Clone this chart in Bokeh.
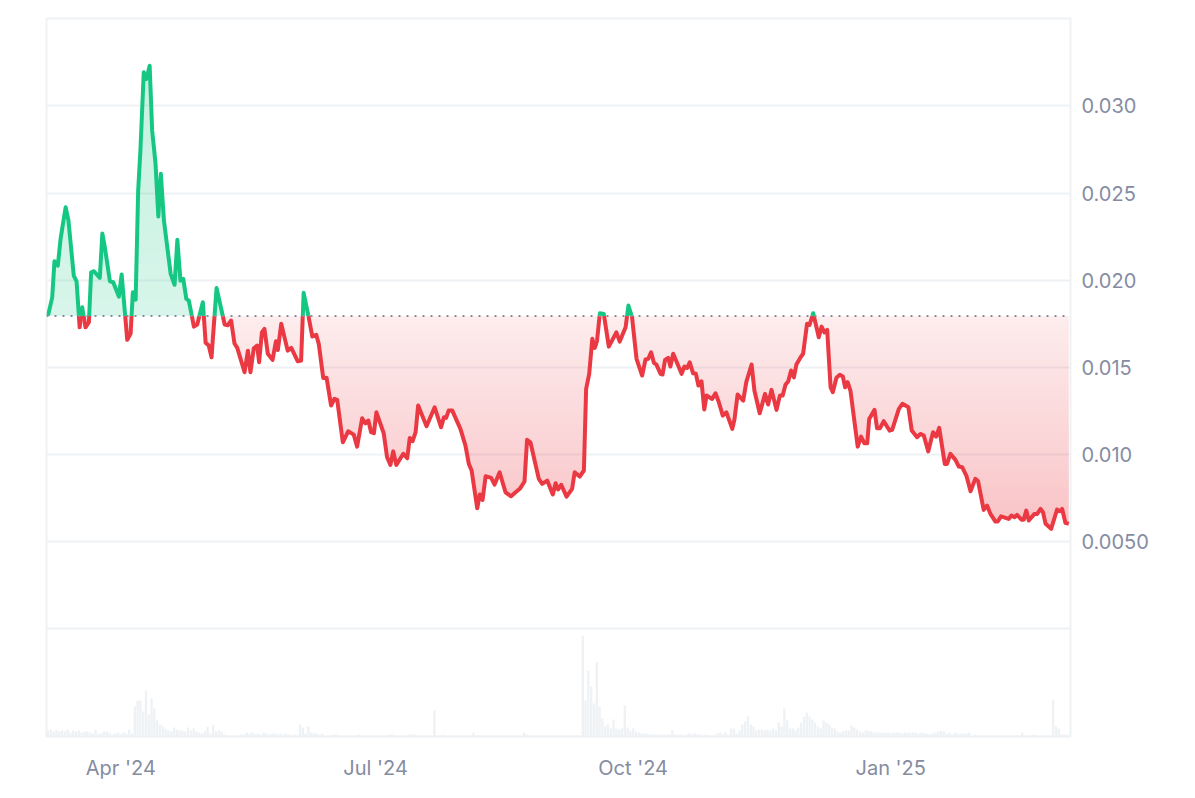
import numpy as np
from bokeh.plotting import figure
from bokeh.models import FixedTicker, Range1d, LinearAxis, Span
from bokeh.embed import file_html
from bokeh.resources import INLINE

# ---------- data ----------
days = [0,1.5,2.3,3.5,4.5,6.3,7.3,9.2,10.2,11.3,12.2,13.4,14.6,15.4,16.4,18.5,19.4,20.3,22.1,23.3,25.3,26.3,28.3,29.5,30.3,31.3,
32.2,33,34.2,35.2,36.3,37.2,38.4,39.4,40.3,41.4,43.8,45.2,46.2,47.3,48.3,49.4,50.3,52.1,53.3,55.3,56.3,57.4,58.4,60.2,63.1,64.2,
65.4,66.6,67.6,70.2,71.4,72.3,73.5,74.7,75.4,76.4,77.3,78.5,80.2,81.4,82.1,83.3,85.6,86.9,89.2,90.4,91.3,93.1,94.4,95.8,96.7,
98.3,99.5,101.1,102.3,103.3,105.3,107.2,109.2,110.4,112.2,113.4,114.4,115.4,116.4,117.3,119.9,121.1,122.3,123.3,124.4,126.9,
128.3,129.2,130.2,131.3,132.2,135.2,138.1,140.4,141.4,142.2,143.1,144.4,147.3,149.1,150.3,151.3,153.3,154.2,155.2,156.3,158.3,
159.5,161.3,163.4,165.4,167,168.5,170.2,171.1,172.3,175.3,176.5,178.3,180.3,181.3,182.2,183.3,185.2,187.2,188.1,189.9,191.4,
192.2,193.3,194.4,195.3,196.1,197.1,198.5,200.3,203,204.2,206.3,207.3,208.6,210.2,212.2,213.4,214.4,215.4,216.4,217.3,218.8,
219.5,220.4,221.5,222.3,223.3,226.3,227.3,228.3,229.2,230.4,231.4,232.3,233.4,234.4,235.2,237.2,238.4,239.6,241,242.3,244.4,
245.2,246.3,248.3,249.4,251.3,252.3,254.2,256.1,257.2,258.4,260.2,261.4,262.4,263.4,264.4,265.4,266.4,267.3,268.8,269.7,271.1,
272,273.3,275.3,276.3,277.3,278.3,279.5,280.3,281.6,282.8,283.9,284.7,285.6,286.6,289.2,290.4,291.6,292.6,293.3,295.2,296.1,
297.1,298.5,300.6,301.5,303.9,305.2,307.3,308.5,310.4,311.6,312.8,314.4,316.1,317.2,318.3,320.3,321.1,322.3,324.1,325.3,326.5,
328,329.5,331.2,332.2,334.2,335.4,336.6,338.4,339.2,340.4,343.1,344.1,345.2,346.1,347.7,348.5,349.4,350.3,352.3,353.3,354.5,
355.4,356.3,358.3,360.4,361.3,362.2,363.4,364.6]

price = [.01802,.01907,.02114,.02089,.02244,.02424,.02348,.02032,.01999,.01735,.0185,.01735,.01764,.02051,.02057,.02019,.02273,
.02194,.01999,.01994,.01911,.02038,.01663,.01699,.01936,.01894,.0252,.0275,.03199,.03161,.03237,.02864,.02675,.02371,.02616,
.02348,.02042,.01979,.02237,.02003,.02013,.01898,.01888,.01739,.01751,.01879,.01646,.0163,.01563,.01961,.01751,.01747,.01774,
.01642,.01617,.01477,.01601,.01477,.01615,.0163,.01534,.01706,.01726,.01583,.01548,.01655,.01605,.01755,.01601,.01617,.0154,
.01544,.01933,.01793,.01682,.01692,.0164,.01444,.01445,.01286,.01324,.01318,.01075,.01138,.01119,.0105,.01213,.01184,.012,
.01133,.01127,.01247,.01127,.00989,.00945,.01023,.00945,.01009,.00983,.011,.01081,.01133,.01286,.01167,.01276,.01161,.01219,
.01215,.01257,.01257,.01152,.01056,.00951,.00913,.00696,.00775,.00744,.0088,.00871,.00832,.00903,.00788,.00765,.00788,.00808,
.0085,.01089,.01075,.00865,.00836,.00855,.00775,.0084,.00804,.00831,.00763,.00808,.00903,.00878,.00913,.01382,.01468,.01669,
.01617,.01659,.01816,.01812,.01624,.01706,.01653,.01735,.0186,.01793,.01554,.01458,.0155,.01554,.01592,.01531,.01521,.01468,
.01464,.01548,.0156,.0151,.01583,.01468,.0151,.01502,.01534,.01471,.01468,.01401,.01425,.01263,.01343,.01324,.01356,.01305,
.01228,.01247,.01152,.01209,.01349,.01314,.0142,.01521,.01372,.01242,.01353,.01292,.01376,.01261,.01343,.01343,.01405,.01425,
.01487,.01448,.01521,.01563,.01583,.01755,.01749,.01816,.01678,.01739,.01706,.0172,.01391,.01362,.01445,.01462,.01452,.01391,
.0142,.01372,.0105,.01108,.01069,.01069,.01209,.01261,.01155,.01155,.01196,.01142,.01146,.01267,.01296,.01276,.01142,.01104,
.01123,.01114,.01023,.01133,.01108,.01158,.00951,.00951,.01009,.00974,.00936,.00932,.00884,.00794,.00865,.00851,.00687,.00712,
.00664,.0062,.0062,.0065,.00635,.00654,.00645,.00658,.00631,.00631,.00683,.00626,.00664,.00664,.00693,.00673,.00607,.00578,
.00689,.00679,.00693,.00612,.00607]

volume = [6,7,5,7,5,6,5,7,4,6,
5,6,4,5,5,4,3,7,3,3,
5,5,4,2,3,4,2,4,3,7,
3,30,36,36,25,46,22,38,28,16,
12,10,8,6,5,9,7,6,6,5,
9,6,8,5,4,3,5,10,3,12,
5,6,5,2,1,1,1,1,1,2,
2,4,3,4,2,3,2,4,3,2,
3,3,2,3,2,3,2,1,2,1,
12,9,3,10,4,3,3,2,3,1,
1,1,2,2,1,1,1,1,1,1,
1,2,1,1,1,1,1,1,1,1,
1,1,2,2,1,1,1,1,1,2,
2,2,1,1,1,1,1,1,26,1,
1,2,1,1,1,1,1,1,1,1,
1,1,4,1,1,1,1,1,1,1,
1,1,1,1,1,1,1,1,1,1,
4,2,1,1,1,1,1,1,1,1,
1,1,1,1,1,1,1,1,1,1,
1,101,36,66,50,33,74,30,18,10,
12,8,17,8,7,8,31,9,6,8,
5,4,3,3,3,2,2,2,2,2,
2,2,2,6,2,2,2,1,2,3,
2,3,2,2,1,2,1,1,1,3,
4,2,4,2,8,8,3,6,12,15,
20,12,10,6,7,7,6,7,6,8,
6,14,10,28,16,8,8,6,9,14,
20,24,20,17,14,10,8,16,14,12,
9,8,5,4,5,6,6,11,9,7,
5,4,6,6,5,4,4,4,4,4,
4,3,4,4,4,3,4,4,4,4,
4,3,4,3,3,2,3,4,5,6,
5,3,4,2,4,3,3,3,3,4,
1,2,1,1,1,1,1,1,1,1,
1,1,1,1,1,1,1,1,4,1,
1,1,2,1,1,1,1,1,1,37,
10,8,2,2,2]

reading_offset = 0.00006   # the series above were read about one pixel too high
baseline_price = 0.018
price_ticks = [0.005, 0.010, 0.015, 0.020, 0.025, 0.030]
price_labels = ["0.0050", "0.010", "0.015", "0.020", "0.025", "0.030"]
month_days = [26, 117, 209, 301]
month_labels = ["Apr '24", "Jul '24", "Oct '24", "Jan '25"]

# ---------- styling ----------
GREEN, RED = "#16c784", "#ea3943"
GRID = "#eff2f5"
TEXT = "#858ca2"
FONT = "Inter"
PX = 1 / 17420  # price per screen pixel

x = np.array(days, float)
y = np.array(price, float) - reading_offset
base = baseline_price - reading_offset


def with_level(xs, ys, level):
    """Add the points where the drawn polyline meets a horizontal level (clipping geometry)."""
    out_x, out_y = [xs[0]], [ys[0]]
    for i in range(1, len(xs)):
        a, b = ys[i - 1], ys[i]
        if (a - level) * (b - level) < 0:
            t = (level - a) / (b - a)
            out_x.append(xs[i - 1] + t * (xs[i] - xs[i - 1]))
            out_y.append(level)
        out_x.append(xs[i])
        out_y.append(b)
    return np.array(out_x), np.array(out_y)


def split_runs(xs, ys, level):
    up, down = ([], []), ([], [])
    start = 0
    for i in range(1, len(xs) + 1):
        if i == len(xs) or (ys[i] == level and i > start):
            end = min(i, len(xs) - 1)
            seg_x, seg_y = xs[start:end + 1], ys[start:end + 1]
            target = up if seg_y.mean() >= level else down
            target[0].append(list(seg_x))
            target[1].append(list(seg_y))
            start = end
    return up, down


p = figure(width=1187, height=790, output_backend="svg", toolbar_location=None,
           x_range=Range1d(-0.54, 365.2), y_range=Range1d(-108 * PX, 610 * PX),
           y_axis_location="right", min_border_left=46, min_border_right=117,
           min_border_top=18, min_border_bottom=54)
p.outline_line_color = GRID
p.outline_line_width = 2
p.background_fill_color = "white"
p.xgrid.visible = False
p.ygrid.ticker = FixedTicker(ticks=[0] + price_ticks)
p.ygrid.grid_line_color = GRID
p.ygrid.grid_line_width = 2
p.ygrid.level = "underlay"

for ax, ticks, labels in ((p.yaxis[0], price_ticks, price_labels), (p.xaxis[0], month_days, month_labels)):
    ax.ticker = FixedTicker(ticks=ticks)
    ax.major_label_overrides = dict(zip(ticks, labels))
    ax.axis_line_color = None
    ax.major_tick_line_color = None
    ax.minor_tick_line_color = None
    ax.major_tick_out = 0
    ax.major_label_text_color = TEXT
    ax.major_label_text_font = FONT
    ax.major_label_text_font_size = "20px"
p.yaxis[0].major_label_standoff = 11
p.xaxis[0].major_label_standoff = 19

# volume bars, on their own scale at the bottom of the frame
p.extra_y_ranges = {"vol": Range1d(0, 718)}
p.vbar(x=np.arange(len(volume)), top=volume, bottom=0, width=0.85, y_range_name="vol",
       fill_color="#eff2f5", line_color=None)

# gradient fills built from thin alpha bands, band edges on whole screen pixels
step = 4 * PX
top_level = y.max()
low_level = y.min()
lvl = base
while lvl > low_level:
    a, b = lvl - step, lvl
    xs, ys = with_level(*with_level(x, y, a), b)
    depth = (base - (a + b) / 2) / 0.012
    p.varea(x=xs, y1=np.clip(ys, a, b), y2=np.full(len(xs), b), fill_color=RED,
            fill_alpha=float(np.clip(0.09 + 0.21 * depth, 0, 0.32)))
    lvl = a
lvl = base
while lvl < top_level:
    a, b = lvl, lvl + step
    xs, ys = with_level(*with_level(x, y, a), b)
    h = ((a + b) / 2 - base) / 0.0144
    p.varea(x=xs, y1=np.full(len(xs), a), y2=np.clip(ys, a, b), fill_color=GREEN,
            fill_alpha=float(0.17 + 0.08 * h))
    lvl = b

# baseline
p.add_layout(Span(location=base, dimension="width", line_color="#8b8f9c",
                  line_width=2, line_dash="2 6", level="glyph"))

# price line, coloured by side of the baseline
xs, ys = with_level(x, y, base)
up, down = split_runs(xs, ys, base)
p.multi_line(xs=down[0], ys=down[1], line_color=RED, line_width=4, line_join="round", line_cap="butt")
p.multi_line(xs=up[0], ys=up[1], line_color=GREEN, line_width=4, line_join="round", line_cap="butt")

open("out.html", "w").write(file_html(p, INLINE))
